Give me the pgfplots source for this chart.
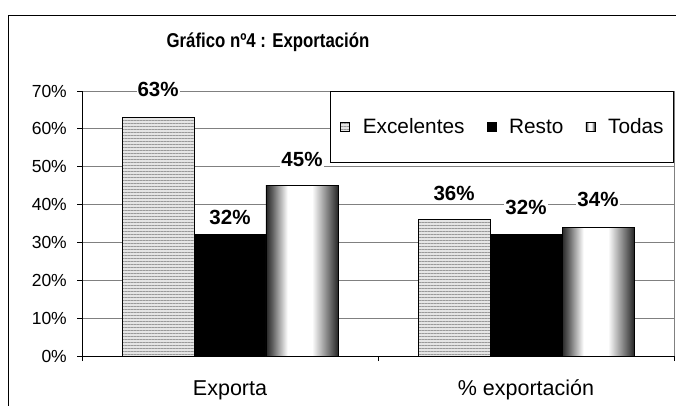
\documentclass[border=0pt]{standalone}
\usepackage{fontspec}
\setmainfont{Liberation Sans}
\usepackage{pgfplots}
\usepackage{pgfplotstable}
\pgfplotsset{compat=1.18}
\usetikzlibrary{patterns.meta}

\pgfdeclarehorizontalshading{cyl}{100bp}{color(0bp)=(black!85); color(25bp)=(black!85); color(29bp)=(black!65); color(40bp)=(white); color(57bp)=(white); color(71bp)=(black!65); color(75bp)=(black!85); color(100bp)=(black!85)}

\pgfplotstableread{
x y off
0 63 21.5
1 36 19.7
}\exc
\pgfplotstableread{
x y off
0 32 10
1 32 20
}\res
\pgfplotstableread{
x y off
0 45 19.6
}\todA
\pgfplotstableread{
x y off
1 34 21
}\todB

\begin{document}
\begin{tikzpicture}[x=1pt,y=1pt]
\useasboundingbox (0,0) rectangle (676,405);
\begin{axis}[
  at={(82pt,49pt)}, anchor=south west,
  scale only axis, width=592pt, height=265pt,
  xmin=-0.5, xmax=1.5, ymin=0, ymax=70,
  ybar, bar width=0.2432,
  axis x line*=bottom, axis y line*=left,
  x axis line style={-, black, line width=1pt},
  y axis line style={-, black, line width=1pt},
  xtick={-0.5,0.5,1.5}, x tick label as interval,
  xticklabels={Exporta,\% exportación},
  ytick={0,10,...,70},
  yticklabel={\pgfmathprintnumber{\tick}\%},
  /pgf/number format/assume math mode=true,
  tick align=outside, major tick length=5pt,
  tick style={black, line width=0.8pt},
  ymajorgrids, grid style={gray, line width=0.9pt},
  yticklabel style={font=\fontsize{17.5}{20}\selectfont, anchor=east, inner sep=0pt, xshift=-10pt},
  xticklabel style={font=\fontsize{21.5}{24}\selectfont, anchor=base, inner sep=0pt, yshift=-34pt},
  clip=false,
  point meta=y,
  nodes near coords={\pgfmathprintnumber{\pgfplotspointmeta}\%},
  visualization depends on={\thisrow{off} \as \myoff},
  every node near coord/.append style={font=\bfseries\fontsize{20.5}{24}\selectfont, anchor=base, yshift=\myoff pt, fill=white, inner sep=1pt, text=black},
  legend columns=3,
  legend style={at={(1,1)}, anchor=north east, draw=black, fill=white, line width=0.8pt,
    inner xsep=10pt, inner ysep=27pt, font=\fontsize{20.8}{24}\selectfont,
    /tikz/every odd column/.append style={column sep=13pt},
    /tikz/every even column/.append style={column sep=22pt}, nodes={inner sep=0pt}},
  legend image code/.code={\draw[#1, line width=0.6pt] (0pt,-4.5pt) rectangle (9pt,4.5pt);},
]
\addplot[bar shift=-0.2432, draw=black, line width=0.8pt, fill=gray!20,
  postaction={pattern={Lines[angle=0,distance=3pt,line width=0.9pt]}, pattern color=gray!80}]
  table[x=x,y=y]{\exc};
\addlegendentry{Excelentes}
\addplot[bar shift=0, draw=black, line width=0.8pt, fill=black] table[x=x,y=y]{\res};
\addlegendentry{Resto}
\addplot[bar shift=0.2432, draw=black, line width=0.8pt, shade, shading=cyl]
  table[x=x,y=y]{\todA};
\addlegendentry{Todas}
\addplot[bar shift=0.2432, draw=black, line width=0.8pt, shade, shading=cyl, forget plot]
  table[x=x,y=y]{\todB};
\draw[gray, line width=0.9pt] (rel axis cs:1,0) -- (rel axis cs:1,1);
\end{axis}
\node[font=\bfseries\fontsize{20}{23}\selectfont] at (268,363) {\scalebox{0.84}[1]{Gráfico nº4 : Exportación}};
\draw[line width=1pt] (8,-10) -- (8,389) -- (700,389);
\end{tikzpicture}
\end{document}
